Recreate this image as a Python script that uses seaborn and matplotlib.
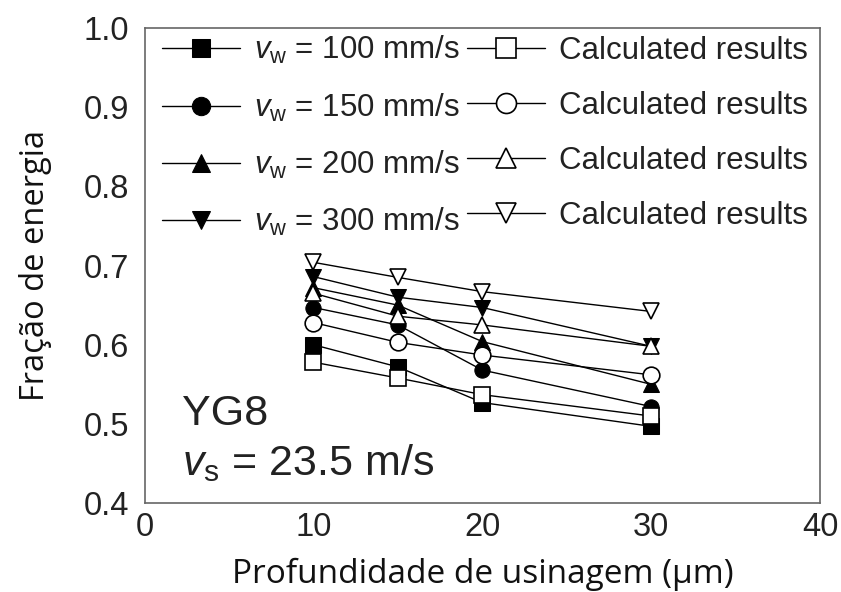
import matplotlib
matplotlib.use("Agg")
import matplotlib.pyplot as plt
import seaborn as sns
import numpy as np

sns.set_theme(style="white")
plt.rcParams['font.family'] = ['Liberation Sans', 'DejaVu Sans']
plt.rcParams['mathtext.fontset'] = 'custom'
plt.rcParams['mathtext.rm'] = 'Liberation Sans'
plt.rcParams['mathtext.it'] = 'Liberation Sans:italic'

depth = [10, 15, 20, 30]
exp_100 = [0.600, 0.572, 0.527, 0.497]
exp_150 = [0.647, 0.625, 0.568, 0.522]
exp_200 = [0.672, 0.650, 0.604, 0.550]
exp_300 = [0.686, 0.660, 0.647, 0.598]
calc_100 = [0.578, 0.558, 0.537, 0.510]
calc_150 = [0.628, 0.603, 0.587, 0.562]
calc_200 = [0.665, 0.636, 0.625, 0.598]
calc_300 = [0.704, 0.685, 0.667, 0.642]

speeds = ["100", "150", "200", "300"]
markers = ["s", "o", "^", "v"]
exp_series = [exp_100, exp_150, exp_200, exp_300]
calc_series = [calc_100, calc_150, calc_200, calc_300]

fig = plt.figure(figsize=(8.41, 5.92), dpi=100)
ax = fig.add_axes([0.172, 0.150, 0.803, 0.803])

for sp, mk, ys in zip(speeds, markers, exp_series):
    sns.lineplot(x=depth, y=ys, ax=ax, color="black", lw=1.0,
                 marker=mk, markersize=11, markerfacecolor="black",
                 markeredgecolor="black", label=r"$v_{\rm w}$ = " + sp + " mm/s")
for sp, mk, ys in zip(speeds, markers, calc_series):
    sns.lineplot(x=depth, y=ys, ax=ax, color="black", lw=1.0,
                 marker=mk, markersize=12, markerfacecolor="white",
                 markeredgecolor="black", markeredgewidth=1.2,
                 label="Calculated results")

ax.set_xlim(0, 40)
ax.set_ylim(0.4, 1.0)
ax.set_xticks([0, 10, 20, 30, 40])
ax.set_yticks([0.4, 0.5, 0.6, 0.7, 0.8, 0.9, 1.0])
ax.set_yticklabels(["0.4", "0.5", "0.6", "0.7", "0.8", "0.9", "1.0"])
ax.set_xticks(np.arange(0, 41, 5), minor=True)
ax.set_yticks(np.arange(0.4, 1.001, 0.05), minor=True)
ax.tick_params(which="both", direction="in", color="#555555", labelsize=23.5,
               labelcolor="#222222")
ax.tick_params(which="major", length=6, width=1)
ax.tick_params(which="minor", length=4, width=1)
ax.tick_params(axis="x", pad=6)
ax.tick_params(axis="y", pad=11)
for s in ax.spines.values():
    s.set_color("#666666")
    s.set_linewidth(1.2)

ax.set_xlabel("Profundidade de usinagem (μm)", fontsize=24, family="Open Sans",
              color="#111111", labelpad=11)
ax.set_ylabel("Fração de energia", fontsize=23.5, family="Open Sans",
              color="#111111", labelpad=23)

ax.text(0.055, 0.165, "YG8", transform=ax.transAxes, fontsize=31, color="#222222")
ax.text(0.055, 0.06, r"$v_{\rm s}$ = 23.5 m/s", transform=ax.transAxes,
        fontsize=31, color="#222222")

leg = ax.legend(loc="upper left", ncol=2, frameon=False, fontsize=22.5,
                handlelength=2.5, handletextpad=0.45, columnspacing=0.2,
                labelspacing=0.8, borderaxespad=0.0, borderpad=0.3,
                markerscale=1.2, bbox_to_anchor=(0.012, 1.006))
for t in leg.get_texts():
    t.set_color("#222222")

fig.savefig("out.png", dpi=100)
